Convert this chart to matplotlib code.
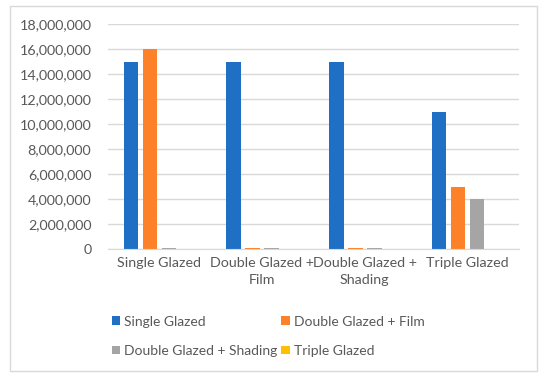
import matplotlib.pyplot as plt
from matplotlib.patches import Rectangle
from matplotlib.ticker import FuncFormatter
import numpy as np

plt.rcParams['font.family'] = ['Lato', 'DejaVu Sans']

# categories on the x axis and one list per series
categories = ['Single Glazed', 'Double Glazed +\nFilm', 'Double Glazed +\nShading', 'Triple Glazed']
series_names = ['Single Glazed', 'Double Glazed + Film', 'Double Glazed + Shading', 'Triple Glazed']
single_glazed = [15000000, 15000000, 15000000, 11000000]
double_film = [16000000, 100000, 100000, 5000000]
double_shading = [100000, 100000, 100000, 4000000]
triple_glazed = [0, 0, 0, 0]
colors = ['#1f70c4', '#fd8128', '#a5a5a5', '#ffc000']

text_color = '#595959'
grid_color = '#d9d9d9'

fig = plt.figure(figsize=(5.5, 3.82), dpi=100)
# outer chart border like Excel
fig.patches.append(Rectangle((10 / 550, 1 - 371 / 382), 527 / 550, 365 / 382,
                             transform=fig.transFigure, fill=False,
                             edgecolor=grid_color, linewidth=1))

ax = fig.add_axes([108 / 550, 1 - 249 / 382, 411 / 550, 225 / 382])

x = np.arange(len(categories))
step = 0.185
width = 0.141
all_series = [single_glazed, double_film, double_shading, triple_glazed]
for i, (vals, name, c) in enumerate(zip(all_series, series_names, colors)):
    ax.bar(x + (i - 1.5) * step, vals, width, color=c, label=name, zorder=3)

ax.set_xlim(-0.5, len(categories) - 0.5)
ax.set_ylim(0, 18000000)
ax.set_yticks(np.arange(0, 18000001, 2000000))
ax.yaxis.set_major_formatter(FuncFormatter(lambda v, p: f'{int(v):,}'))
ax.set_xticks(x)
ax.set_xticklabels(categories, linespacing=1.5)
ax.tick_params(axis='both', length=0, labelsize=10.3, colors=text_color)
ax.tick_params(axis='y', pad=12)
ax.tick_params(axis='x', pad=6)

ax.grid(axis='y', color=grid_color, linewidth=1, zorder=0)
for s in ['top', 'right', 'left']:
    ax.spines[s].set_visible(False)
ax.spines['bottom'].set_color(grid_color)
ax.spines['bottom'].set_zorder(4)

# legend rows: Single / Film, then Shading / Triple
handles, labels = ax.get_legend_handles_labels()
order = [0, 2, 1, 3]
leg = fig.legend([handles[i] for i in order], [labels[i] for i in order],
                 ncol=2, loc='upper left', bbox_to_anchor=(99 / 550, 1 - 303 / 382),
                 frameon=False, fontsize=10, handlelength=0.6, handleheight=0.6,
                 handletextpad=0.3, columnspacing=0.3, labelspacing=1.25)
for t in leg.get_texts():
    t.set_color(text_color)

fig.savefig('out.png', dpi=100)
